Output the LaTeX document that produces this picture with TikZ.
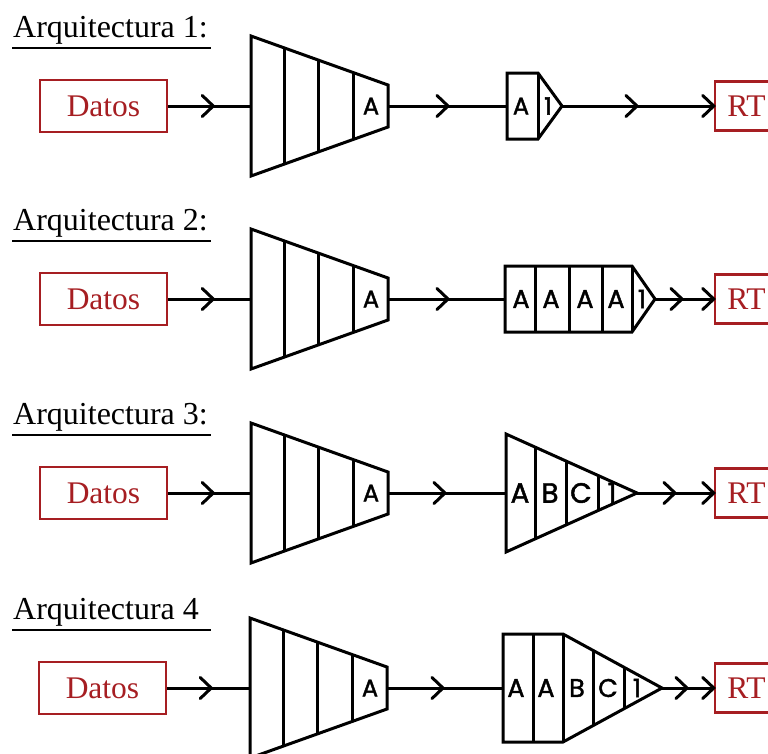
\documentclass[tikz,border=0pt]{standalone}
\usepackage{fontspec}
\setmainfont{Liberation Serif}
\newfontfamily\cellfont{Poppins}[FakeBold=1.6]
\usetikzlibrary{calc,decorations.markings}
\definecolor{datared}{RGB}{166,30,34}
\tikzset{
  blk/.style={line width=3pt, line join=miter},
  iobox/.style={draw=datared, line width=2.5pt, text=datared,
    font=\fontsize{31.5}{31.5}\selectfont, inner sep=0pt, minimum height=52pt},
  heading/.style={anchor=base west, inner sep=0pt, font=\fontsize{32}{32}\selectfont},
  celltxt/.style={font=\cellfont\fontsize{24}{24}\selectfont, inner sep=0pt},
  midcell/.style={font=\cellfont\fontsize{25.5}{25.5}\selectfont, inner sep=0pt},
  bigcell/.style={font=\cellfont\fontsize{28}{28}\selectfont, inner sep=0pt},
  link/.style={line width=3pt},
  chev/.style={postaction={decorate,decoration={markings,
    mark=at position #1 with {\draw[line width=3pt,line cap=round,line join=miter]
      (-11pt,-10.5pt) -- (0pt,0pt) -- (-11pt,10.5pt);}}}},
}
\begin{document}
\begin{tikzpicture}[x=1pt,y=-1pt]
\useasboundingbox (0,0) rectangle (768,753);
\clip (0,0) rectangle (768,753);

% ---------- Row 1 ----------
\begin{scope}[shift={(0,106)}]
  \node[heading] (t1) at (13,-69) {Arquitectura 1:};
  \draw[line width=2.8pt] (12,-58) -- (211,-58);
  \node[iobox, minimum width=127pt] (d1) at (103.5,0) {Datos};
  \coordinate (in1) at (251,0);
  \coordinate (out1) at (388,0);
  \draw[blk] (251,-70) -- (388,-21) -- (388,21) -- (251,70) -- cycle;
  \foreach \f in {0.245,0.495,0.745}
    \draw[blk] ($(251,-70)!\f!(388,-21)$) -- ($(251,70)!\f!(388,21)$);
  \node[celltxt] (e1) at (371,0) {A};
  % output block: one cell and the output head
  \coordinate (bin1) at (507,0);
  \coordinate (bout1) at (562,0);
  \draw[blk] (507,-33) -- (538,-33) -- (562,0) -- (538,33) -- (507,33) -- cycle;
  \draw[blk] (538,-33) -- (538,33);
  \node[celltxt] at (521,0) {A};
  \node[celltxt] at (548,0) {1};
  \node[iobox, minimum width=63pt, minimum height=49pt] (r1) at (746.5,0) {RT};
  \draw[link, chev=45pt] (d1.east) -- (in1);
  \draw[link, chev=60pt] (out1) -- (bin1);
  \draw[link, chev=75pt, chev=1] (bout1) -- (r1.west);
\end{scope}

% ---------- Row 2 ----------
\begin{scope}[shift={(0,299)}]
  \node[heading] (t2) at (13,-69) {Arquitectura 2:};
  \draw[line width=2.8pt] (12,-58) -- (211,-58);
  \node[iobox, minimum width=127pt] (d2) at (103.5,0) {Datos};
  \coordinate (in2) at (251,0);
  \coordinate (out2) at (388,0);
  \draw[blk] (251,-70) -- (388,-21) -- (388,21) -- (251,70) -- cycle;
  \foreach \f in {0.245,0.495,0.745}
    \draw[blk] ($(251,-70)!\f!(388,-21)$) -- ($(251,70)!\f!(388,21)$);
  \node[celltxt] (e2) at (371,0) {A};
  \coordinate (bin2) at (505,0);
  \coordinate (bout2) at (655,0);
  \draw[blk] (505,-33) -- (632,-33) -- (655,0) -- (632,33) -- (505,33) -- cycle;
  \foreach \x in {535,569,602,632}
    \draw[blk] (\x,-33) -- (\x,33);
  \foreach \x/\t in {521/A,551/A,585/A,616/A,642/1}
    \node[midcell] at (\x,0) {\t};
  \node[iobox, minimum width=63pt, minimum height=49pt] (r2) at (746.5,0) {RT};
  \draw[link, chev=45pt] (d2.east) -- (in2);
  \draw[link, chev=60pt] (out2) -- (bin2);
  \draw[link, chev=27pt, chev=1] (bout2) -- (r2.west);
\end{scope}

% ---------- Row 3 ----------
\begin{scope}[shift={(0,493)}]
  \node[heading] (t3) at (13,-69) {Arquitectura 3:};
  \draw[line width=2.8pt] (12,-58) -- (211,-58);
  \node[iobox, minimum width=127pt] (d3) at (103.5,0) {Datos};
  \coordinate (in3) at (251,0);
  \coordinate (out3) at (388,0);
  \draw[blk] (251,-70) -- (388,-21) -- (388,21) -- (251,70) -- cycle;
  \foreach \f in {0.245,0.495,0.745}
    \draw[blk] ($(251,-70)!\f!(388,-21)$) -- ($(251,70)!\f!(388,21)$);
  \node[celltxt] (e3) at (371,0) {A};
  \coordinate (bin3) at (506,0);
  \coordinate (bout3) at (637,0);
  \draw[blk] (506,-59) -- (637,0) -- (506,59) -- cycle;
  \foreach \x in {535,566,598}
    \draw[blk] ($(506,-59)!{(\x-506)/131}!(637,0)$) -- ($(506,59)!{(\x-506)/131}!(637,0)$);
  \foreach \x/\t in {520/A,550/B,581/C,612/1}
    \node[bigcell] at (\x,0) {\t};
  \node[iobox, minimum width=63pt, minimum height=49pt] (r3) at (746.5,0) {RT};
  \draw[link, chev=45pt] (d3.east) -- (in3);
  \draw[link, chev=57pt] (out3) -- (bin3);
  \draw[link, chev=38pt, chev=1] (bout3) -- (r3.west);
\end{scope}

% ---------- Row 4 ----------
\begin{scope}[shift={(0,688)}]
  \node[heading] (t4) at (13,-69) {Arquitectura 4};
  \draw[line width=2.8pt] (12,-58) -- (211,-58);
  \node[iobox, minimum width=127pt] (d4) at (102.5,0) {Datos};
  \coordinate (in4) at (250,0);
  \coordinate (out4) at (387,0);
  \draw[blk] (250,-70) -- (387,-21) -- (387,21) -- (250,70) -- cycle;
  \foreach \f in {0.245,0.495,0.745}
    \draw[blk] ($(250,-70)!\f!(387,-21)$) -- ($(250,70)!\f!(387,21)$);
  \node[celltxt] (e4) at (370,0) {A};
  \coordinate (bin4) at (503,0);
  \coordinate (bout4) at (662,0);
  \draw[blk] (503,-54) -- (563,-54) -- (662,0) -- (563,54) -- (503,54) -- cycle;
  \foreach \x in {533,563}
    \draw[blk] (\x,-54) -- (\x,54);
  \foreach \x in {593,624}
    \draw[blk] ($(563,-54)!{(\x-563)/99}!(662,0)$) -- ($(563,54)!{(\x-563)/99}!(662,0)$);
  \foreach \x/\t in {516/A,546/A,577/B,608/C,637/1}
    \node[midcell] at (\x,0) {\t};
  \node[iobox, minimum width=63pt, minimum height=49pt] (r4) at (746.5,0) {RT};
  \draw[link, chev=44pt] (d4.east) -- (in4);
  \draw[link, chev=56pt] (out4) -- (bin4);
  \draw[link, chev=25pt, chev=1] (bout4) -- (r4.west);
\end{scope}
\end{tikzpicture}
\end{document}
